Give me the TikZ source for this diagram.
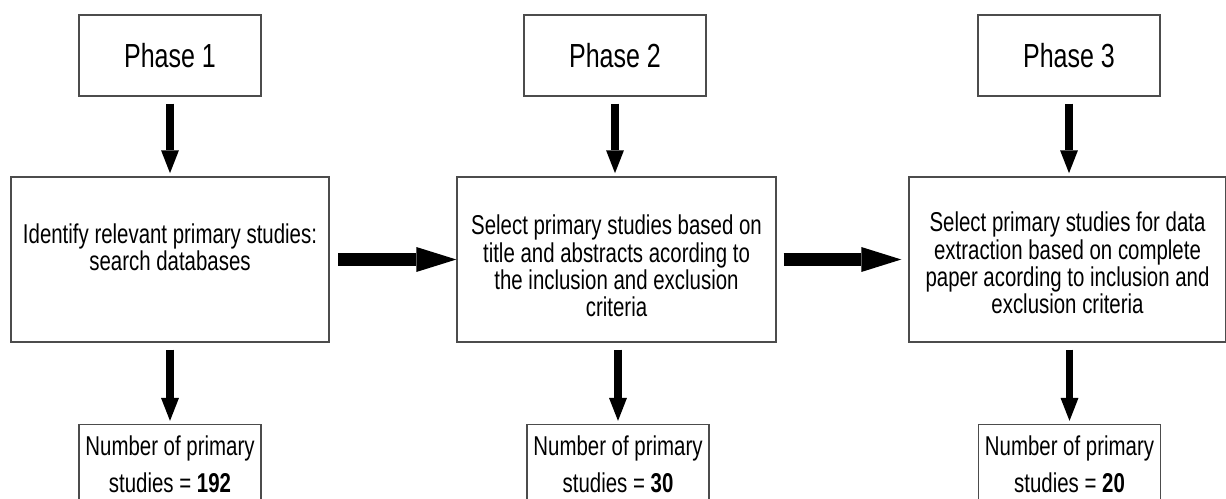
\documentclass[tikz,border=0pt]{standalone}
\usepackage{fontspec}
\setmainfont[FakeStretch=0.75]{Liberation Sans}
\usetikzlibrary{arrows.meta}

\newcommand\pxu{0.02cm}

\tikzset{
  phase/.style={draw=black!70, line width=0.8pt, minimum width=182*\pxu,
    minimum height=81*\pxu, font=\fontsize{19pt}{22pt}\selectfont},
  stage/.style={draw=black!70, line width=0.8pt, minimum height=165*\pxu,
    align=center, inner sep=0pt, font=\fontsize{15.5pt}{15.5pt}\selectfont},
  count/.style={draw=black!70, line width=0.8pt, minimum width=182*\pxu,
    anchor=north, align=center, inner ysep=6.5pt, text depth=15pt,
    font=\fontsize{15.5pt}{21pt}\selectfont},
  varr/.style={line width=4.25pt, shorten <=4pt, shorten >=1.8pt,
    -{Triangle[width=10.2pt,length=13pt,line width=0pt]}},
  harr/.style={line width=7.4pt, -{Triangle[width=14.2pt,length=22.7pt,line width=0pt]}}
}

\begin{document}
\begin{tikzpicture}[x=0.02cm,y=-0.02cm]
\useasboundingbox (0,0) rectangle (1226,499);
\clip (0,0) rectangle (1226,499);
%фазы
\node[phase] (p1) at (170,55.5) {Phase 1};
\node[phase] (p2) at (615,55.5) {Phase 2};
\node[phase] (p3) at (1069,55.5) {Phase 3};
%этапы отбора
\node[stage, minimum width=318*\pxu, text depth=13.8pt] (m1) at (170,259.5)
  {Identify relevant primary studies:\\search databases};
\node[stage, minimum width=319*\pxu, text height=65.2pt] (m2) at (616.5,259.5)
  {Select primary studies based on\\title and abstracts acording to\\the inclusion and exclusion\\criteria};
\node[stage, minimum width=317*\pxu, text height=61.8pt] (m3) at (1067.5,259.5)
  {Select primary studies for data\\extraction based on complete\\paper acording to inclusion and\\exclusion criteria};
%число работ
\node[count] (n1) at (170,424) {Number of primary\\studies = \textbf{192}};
\node[count] (n2) at (618,424) {Number of primary\\studies = \textbf{30}};
\node[count] (n3) at (1069.5,424) {Number of primary\\studies = \textbf{20}};
%стрелки вниз
\draw[varr] (p1.south) -- (p1.south |- m1.north);
\draw[varr] (p2.south) -- (p2.south |- m2.north);
\draw[varr] (p3.south) -- (p3.south |- m3.north);
\draw[varr] (m1.south) -- (m1.south |- n1.north);
\draw[varr] (n2.north |- m2.south) -- (n2.north);
\draw[varr] (n3.north |- m3.south) -- (n3.north);
%стрелки вправо
\draw[harr, shorten <=5pt] (m1.east) -- (m2.west);
\draw[harr, shorten <=4pt, shorten >=4pt] (m2.east) -- (m3.west);
\end{tikzpicture}
\end{document}
